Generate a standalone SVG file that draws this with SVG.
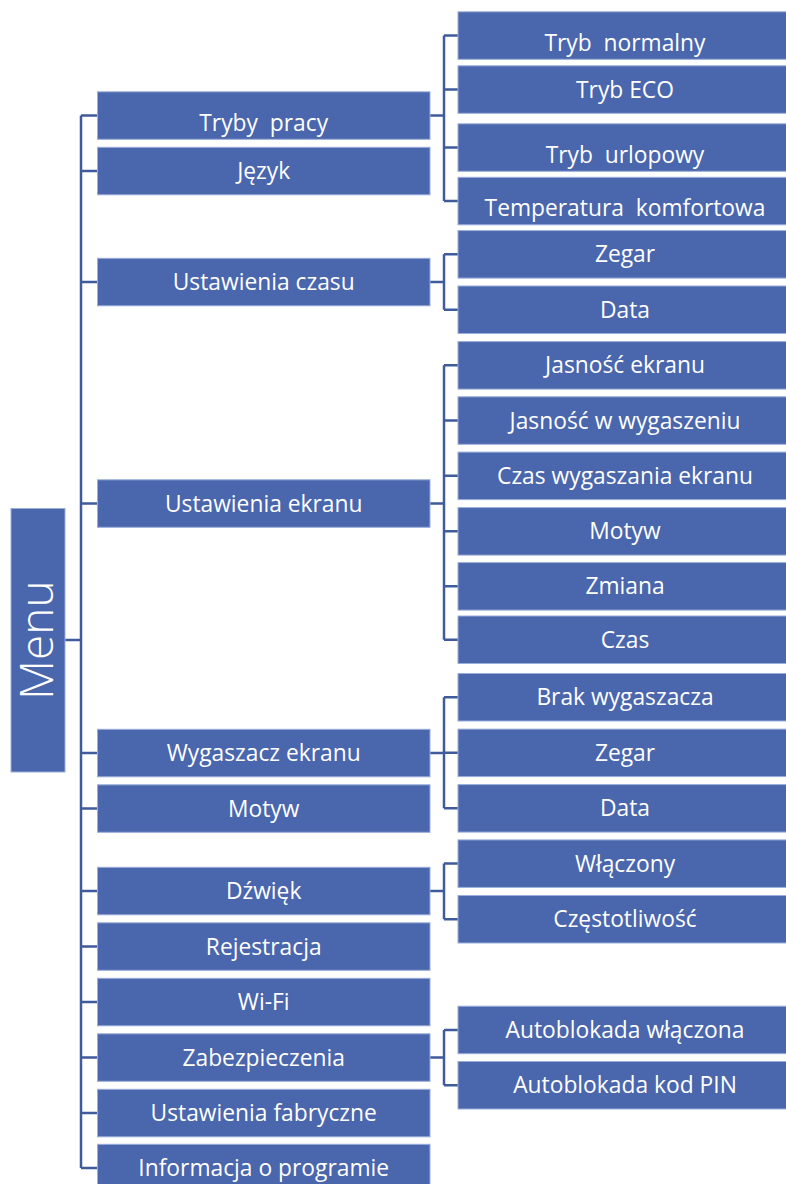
<svg xmlns="http://www.w3.org/2000/svg" width="786" height="1184" viewBox="0 0 786 1184">
<style>
.box{fill:#4A66AC;stroke:#9AAEDB;stroke-width:1}
.t{font-family:"Open Sans","Liberation Sans",sans-serif;font-size:22.8px;fill:#FFFFFF;text-anchor:middle;white-space:pre}
.menu{font-family:"Open Sans","Liberation Sans",sans-serif;font-size:46px;font-weight:300;fill:#FFFFFF;text-anchor:middle}
.c{fill:none;stroke:#3F5B9B;stroke-width:2.5}
</style>
<rect width="786" height="1184" fill="#FFFFFF"/>
<g id="connectors">
<path class="c" d="M65,640H81 M81,115.5V1168 M81,115.5H97.5 M81,171H97.5 M81,282H97.5 M81,503.5H97.5 M81,753H97.5 M81,808.5H97.5 M81,891H97.5 M81,946.5H97.5 M81,1002H97.5 M81,1057.5H97.5 M81,1113H97.5 M81,1168H97.5"/>
<path class="c" d="M430,115.5H444 M444,35.5V201 M444,35.5H458 M444,89.5H458 M444,147.5H458 M444,201H458"/>
<path class="c" d="M430,282H444 M444,254.3V309.7 M444,254.3H458 M444,309.7H458"/>
<path class="c" d="M430,503.5H444 M444,365.3V639.7 M444,365.3H458 M444,420.5H458 M444,475.8H458 M444,531.3H458 M444,586.3H458 M444,639.7H458"/>
<path class="c" d="M430,753H444 M444,697.2V808.3 M444,697.2H458 M444,752.8H458 M444,808.3H458"/>
<path class="c" d="M430,891H444 M444,863.6V919.2 M444,863.6H458 M444,919.2H458"/>
<path class="c" d="M430,1057.5H444 M444,1029.9V1085.2 M444,1029.9H458 M444,1085.2H458"/>
</g>
<g id="menu"><rect class="box" x="11" y="508.5" width="54" height="263.5"/><text class="menu" transform="translate(53,640) rotate(-90)">Menu</text></g>
<g id="tryby-pracy"><rect class="box" x="97.5" y="91.8" width="332.5" height="47.5"/><text class="t" x="263.7" y="130.5" xml:space="preserve">Tryby  pracy</text></g>
<g id="jezyk"><rect class="box" x="97.5" y="147.3" width="332.5" height="47.5"/><text class="t" x="263.7" y="179">Język</text></g>
<g id="ustawienia-czasu"><rect class="box" x="97.5" y="258.3" width="332.5" height="47.5"/><text class="t" x="263.7" y="290">Ustawienia czasu</text></g>
<g id="ustawienia-ekranu"><rect class="box" x="97.5" y="479.8" width="332.5" height="47.5"/><text class="t" x="263.7" y="511.5">Ustawienia ekranu</text></g>
<g id="wygaszacz-ekranu"><rect class="box" x="97.5" y="729.3" width="332.5" height="47.5"/><text class="t" x="263.7" y="761">Wygaszacz ekranu</text></g>
<g id="motyw"><rect class="box" x="97.5" y="784.8" width="332.5" height="47.5"/><text class="t" x="263.7" y="816.5">Motyw</text></g>
<g id="dzwiek"><rect class="box" x="97.5" y="867.3" width="332.5" height="47.5"/><text class="t" x="263.7" y="899">Dźwięk</text></g>
<g id="rejestracja"><rect class="box" x="97.5" y="922.8" width="332.5" height="47.5"/><text class="t" x="263.7" y="954.5">Rejestracja</text></g>
<g id="wifi"><rect class="box" x="97.5" y="978.3" width="332.5" height="47.5"/><text class="t" x="263.7" y="1010">Wi-Fi</text></g>
<g id="zabezpieczenia"><rect class="box" x="97.5" y="1033.8" width="332.5" height="47.5"/><text class="t" x="263.7" y="1065.5">Zabezpieczenia</text></g>
<g id="ustawienia-fabryczne"><rect class="box" x="97.5" y="1089.3" width="332.5" height="47.5"/><text class="t" x="263.7" y="1121">Ustawienia fabryczne</text></g>
<g id="informacja"><rect class="box" x="97.5" y="1144.3" width="332.5" height="47.5"/><text class="t" x="263.7" y="1176">Informacja o programie</text></g>
<g id="tryb-normalny"><rect class="box" x="458" y="11.8" width="335" height="47.5"/><text class="t" x="625" y="50.5" xml:space="preserve">Tryb  normalny</text></g>
<g id="tryb-eco"><rect class="box" x="458" y="65.8" width="335" height="47.5"/><text class="t" x="625" y="97.5">Tryb ECO</text></g>
<g id="tryb-urlopowy"><rect class="box" x="458" y="123.8" width="335" height="47.5"/><text class="t" x="625" y="162.5" xml:space="preserve">Tryb  urlopowy</text></g>
<g id="temperatura-komfortowa"><rect class="box" x="458" y="177.3" width="335" height="47.5"/><text class="t" x="625" y="216" xml:space="preserve">Temperatura  komfortowa</text></g>
<g id="zegar1"><rect class="box" x="458" y="230.6" width="335" height="47.5"/><text class="t" x="625" y="262.3">Zegar</text></g>
<g id="data1"><rect class="box" x="458" y="286" width="335" height="47.5"/><text class="t" x="625" y="317.7">Data</text></g>
<g id="jasnosc-ekranu"><rect class="box" x="458" y="341.6" width="335" height="47.5"/><text class="t" x="625" y="373.3">Jasność ekranu</text></g>
<g id="jasnosc-w-wygaszeniu"><rect class="box" x="458" y="396.8" width="335" height="47.5"/><text class="t" x="625" y="428.5">Jasność w wygaszeniu</text></g>
<g id="czas-wygaszania"><rect class="box" x="458" y="452.1" width="335" height="47.5"/><text class="t" x="625" y="483.8">Czas wygaszania ekranu</text></g>
<g id="motyw2"><rect class="box" x="458" y="507.6" width="335" height="47.5"/><text class="t" x="625" y="539.3">Motyw</text></g>
<g id="zmiana"><rect class="box" x="458" y="562.6" width="335" height="47.5"/><text class="t" x="625" y="594.3">Zmiana</text></g>
<g id="czas"><rect class="box" x="458" y="616" width="335" height="47.5"/><text class="t" x="625" y="647.7">Czas</text></g>
<g id="brak-wygaszacza"><rect class="box" x="458" y="673.5" width="335" height="47.5"/><text class="t" x="625" y="705.2">Brak wygaszacza</text></g>
<g id="zegar2"><rect class="box" x="458" y="729.1" width="335" height="47.5"/><text class="t" x="625" y="760.8">Zegar</text></g>
<g id="data2"><rect class="box" x="458" y="784.6" width="335" height="47.5"/><text class="t" x="625" y="816.3">Data</text></g>
<g id="wlaczony"><rect class="box" x="458" y="839.9" width="335" height="47.5"/><text class="t" x="625" y="871.6">Włączony</text></g>
<g id="czestotliwosc"><rect class="box" x="458" y="895.5" width="335" height="47.5"/><text class="t" x="625" y="927.2">Częstotliwość</text></g>
<g id="autoblokada-wlaczona"><rect class="box" x="458" y="1006.2" width="335" height="47.5"/><text class="t" x="625" y="1037.9">Autoblokada włączona</text></g>
<g id="autoblokada-pin"><rect class="box" x="458" y="1061.5" width="335" height="47.5"/><text class="t" x="625" y="1093.2">Autoblokada kod PIN</text></g>
</svg>
